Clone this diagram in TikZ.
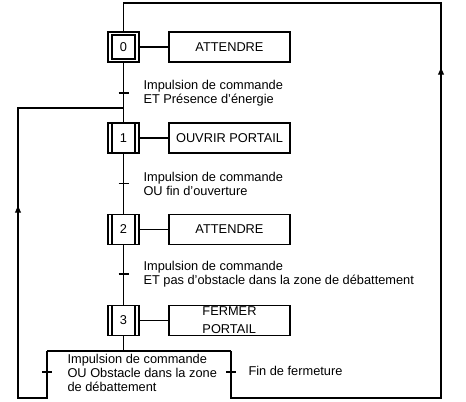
\documentclass[tikz,border=0pt]{standalone}
\usepackage{fontspec}
\setmainfont{Liberation Sans}
\usetikzlibrary{arrows.meta}

\begin{document}
\begin{tikzpicture}[x=0.75pt, y=-0.75pt, line width=0.8pt,
  every node/.style={font=\fontsize{9.6}{10.5}\selectfont},
  etape/.style={draw, minimum width=23.25pt, minimum height=22.5pt, inner sep=0pt,
    path picture={
      \draw ([xshift=3pt]path picture bounding box.north west) -- ([xshift=3pt]path picture bounding box.south west);
      \draw ([xshift=-3pt]path picture bounding box.north east) -- ([xshift=-3pt]path picture bounding box.south east);}},
  etapeinit/.style={draw, minimum width=23.25pt, minimum height=22.5pt, inner sep=0pt,
    path picture={
      \draw ([shift={(3pt,-2.25pt)}]path picture bounding box.north west) rectangle ([shift={(-3pt,2.25pt)}]path picture bounding box.south east);}},
  actbox/.style={draw, minimum width=90.75pt, minimum height=22.5pt, inner sep=0pt, align=left},
  recept/.style={anchor=west, inner sep=0pt, align=left},
  fleche/.style={-{Triangle[width=4.5pt,length=5pt]}}
  ]

  \useasboundingbox (0,0) rectangle (466,401);

  %% etapes
  \node[etapeinit] (e0) at (123.5,47) {0};
  \node[etape] (e1) at (123.5,138) {1};
  \node[etape] (e2) at (123.5,229.5) {2};
  \node[etape] (e3) at (123.5,320.5) {3};

  %% actions
  \node[actbox] (a0) at (229.5,47) {ATTENDRE};
  \node[actbox] (a1) at (229.5,138) {OUVRIR PORTAIL};
  \node[actbox] (a2) at (229.5,229.5) {ATTENDRE};
  \node[actbox, font=\fontsize{9.6}{13.5}\selectfont] (a3) at (229.5,320.5) {FERMER\\PORTAIL};

  \draw (e0) -- (a0);
  \draw (e1) -- (a1);
  \draw (e2) -- (a2);
  \draw (e3) -- (a3);

  %% transitions
  \coordinate (t01) at (123.5,93);
  \coordinate (t12) at (123.5,183.5);
  \coordinate (t23) at (123.5,274);
  \coordinate (tg) at (47,372);
  \coordinate (td) at (231,372);

  \draw (e0) -- (e1); %% 0->1
  \draw (e1) -- (e2); %% 1->2
  \draw (e2) -- (e3); %% 2->3

  \foreach \t in {t01,t12,t23,tg,td}
    \draw (\t) +(-5,0) -- +(5,0);

  \node[recept] (r01) at (143,93) {Impulsion de commande\\ET Présence d'énergie};
  \node[recept] (r12) at (143,183.5) {Impulsion de commande\\OU fin d'ouverture};
  \node[recept] (r23) at (143,274) {Impulsion de commande\\ET pas d'obstacle dans la zone de débattement};
  \node[recept] (rg) at (67,373) {Impulsion de commande\\OU Obstacle dans la zone\\de débattement};
  \node[recept] (rd) at (248,371) {Fin de fermeture};

  %% divergence en OU
  \coordinate (dg) at (47,351);
  \coordinate (dd) at (231,351);
  \draw (e3) -- (e3.south |- dg);
  \draw (dg) -- (dd);

  %% retour vers 0
  \coordinate (bd) at (441,398);
  \coordinate (hd) at (441,3);
  \draw (dd) |- (bd) -- (hd) -| (e0.north);
  \draw[fleche] (441,80) -- (441,68);

  %% retour vers 1
  \coordinate (bg) at (18,398);
  \coordinate (hg) at (18,108);
  \draw (dg) |- (bg) -- (hg) -- (t01 |- hg);
  \draw[fleche] (18,218) -- (18,206);
\end{tikzpicture}
\end{document}
